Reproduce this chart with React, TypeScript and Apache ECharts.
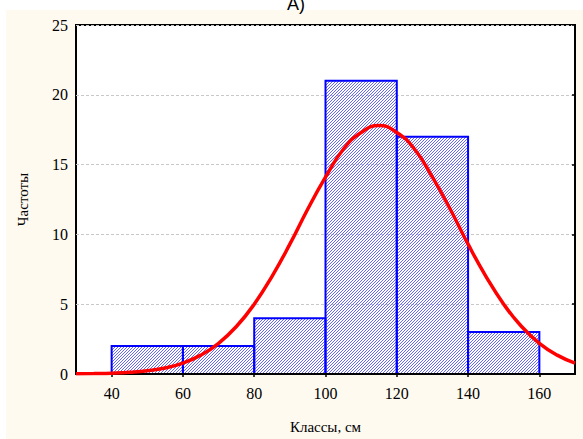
import React, { useEffect, useRef } from "react";
import * as echarts from "echarts";

// Histogram classes (cm) and frequencies
const binStarts = [40, 60, 80, 100, 120, 140];
const binEnds = [60, 80, 100, 120, 140, 160];
const frequencies = [2, 2, 4, 21, 17, 3];

// Fitted curve
const curveX = [30, 35, 40, 45, 50, 55, 60, 65, 70, 75, 80, 85, 90, 95, 100, 105, 110, 115, 120, 125, 130, 135, 140, 145, 150, 155, 160, 165, 170];
const curveY = [0.01, 0.03, 0.06, 0.12, 0.23, 0.43, 0.78, 1.35, 2.2, 3.4, 5.0, 7.0, 9.3, 11.8, 14.1, 16.1, 17.3, 17.8, 17.3, 16.1, 14.1, 11.8, 9.3, 7.0, 5.0, 3.4, 2.2, 1.35, 0.78];

const xTickValues = [40, 60, 80, 100, 120, 140, 160];

const titleText = "А)";
const xName = "Классы, см";
const yName = "Частоты";

export default function App() {
  const ref = useRef<HTMLDivElement>(null);

  useEffect(() => {
    if (!ref.current) return;
    const chart = echarts.init(ref.current, undefined, { renderer: "svg" });

    const barData = binStarts.map((s, i) => [s, binEnds[i], frequencies[i]]);
    const lineData = curveX.map((x, i) => [x, curveY[i]]);

    const serif = "'Liberation Serif', 'Times New Roman', serif";

    const option: any = {
      animation: false,
      backgroundColor: "transparent",
      grid: {
        left: 76,
        right: 8,
        top: 25,
        bottom: 64,
        show: true,
        backgroundColor: "#ffffff",
        borderColor: "#000000",
        borderWidth: 2,
      },
      graphic: [
        {
          type: "text",
          x: 296,
          y: -5,
          style: {
            text: titleText,
            fill: "#000",
            font: "18px 'Liberation Sans', Arial, sans-serif",
            textAlign: "center",
            textVerticalAlign: "top",
          },
        },
      ],
      xAxis: [
        {
          type: "value",
          min: 30,
          max: 170,
          position: "bottom",
          z: 3,
          axisLine: { show: true, onZero: false, lineStyle: { color: "#000", width: 2 } },
          axisTick: { show: false },
          axisLabel: {
            customValues: xTickValues,
            color: "#000",
            fontFamily: serif,
            fontSize: 16,
            margin: 11,
          },
          splitLine: { show: false },
          name: xName,
          nameLocation: "middle",
          nameGap: 45,
          nameTextStyle: { color: "#000", fontFamily: serif, fontSize: 15 },
        },
        {
          type: "value",
          min: 30,
          max: 170,
          position: "top",
          z: 3,
          axisLine: { show: false },
          axisTick: {
            show: true,
            inside: true,
            length: 3,
            customValues: xTickValues,
            lineStyle: { color: "#000", width: 1.5 },
          },
          axisLabel: { show: false },
          splitLine: { show: false },
        },
      ],
      yAxis: [
        {
          type: "value",
          min: 0,
          max: 25,
          interval: 5,
          position: "left",
          axisLine: { show: false },
          axisTick: { show: false },
          axisLabel: { color: "#000", fontFamily: serif, fontSize: 16, margin: 8 },
          splitLine: {
            show: true,
            lineStyle: { color: "#c8c8c8", type: [3, 2], width: 1 },
          },
          name: yName,
          nameLocation: "middle",
          nameGap: 46,
          nameRotate: 90,
          nameTextStyle: { color: "#000", fontFamily: serif, fontSize: 15 },
        },
        {
          type: "value",
          min: 0,
          max: 25,
          interval: 5,
          position: "right",
          axisLine: { show: false },
          axisTick: { show: true, inside: true, length: 3, lineStyle: { color: "#000", width: 1.5 } },
          axisLabel: { show: false },
          splitLine: { show: false },
        },
      ],
      series: [
        {
          type: "custom",
          xAxisIndex: 0,
          yAxisIndex: 0,
          z: 2,
          encode: { x: [0, 1], y: 2 },
          data: barData,
          renderItem: (params: any, api: any) => {
            const s = api.value(0);
            const e = api.value(1);
            const v = api.value(2);
            const tl = api.coord([s, v]);
            const br = api.coord([e, 0]);
            const x0 = tl[0];
            const y0 = tl[1];
            const x1 = br[0];
            const y1 = br[1];
            const children: any[] = [];
            const step = 3;
            let k = Math.ceil((x0 + y0) / step) * step;
            for (; k < x1 + y1; k += step) {
              const xa = Math.max(x0, k - y1);
              const xb = Math.min(x1, k - y0);
              if (xb <= xa) continue;
              children.push({
                type: "line",
                shape: { x1: xa, y1: k - xa, x2: xb, y2: k - xb },
                style: { stroke: "#6464ff", lineWidth: 1 },
              });
            }
            children.push({
              type: "rect",
              shape: { x: x0, y: y0, width: x1 - x0, height: y1 - y0 },
              style: { fill: "none", stroke: "#0000ff", lineWidth: 2 },
            });
            return { type: "group", children };
          },
        },
        {
          type: "line",
          xAxisIndex: 0,
          yAxisIndex: 0,
          z: 5,
          data: lineData,
          smooth: true,
          symbol: "none",
          lineStyle: { color: "#ff0000", width: 3.5 },
        },
      ],
    };

    chart.setOption(option);
    return () => chart.dispose();
  }, []);

  return (
    <div style={{ position: "fixed", left: 0, top: 0, width: 583, height: 439, background: "#ffffff" }}>
      <div style={{ position: "absolute", left: 6, top: 10, right: 0, bottom: 0, background: "#fffaf0" }} />
      <div ref={ref} style={{ position: "absolute", left: 0, top: 0, width: 583, height: 439 }} />
    </div>
  );
}
